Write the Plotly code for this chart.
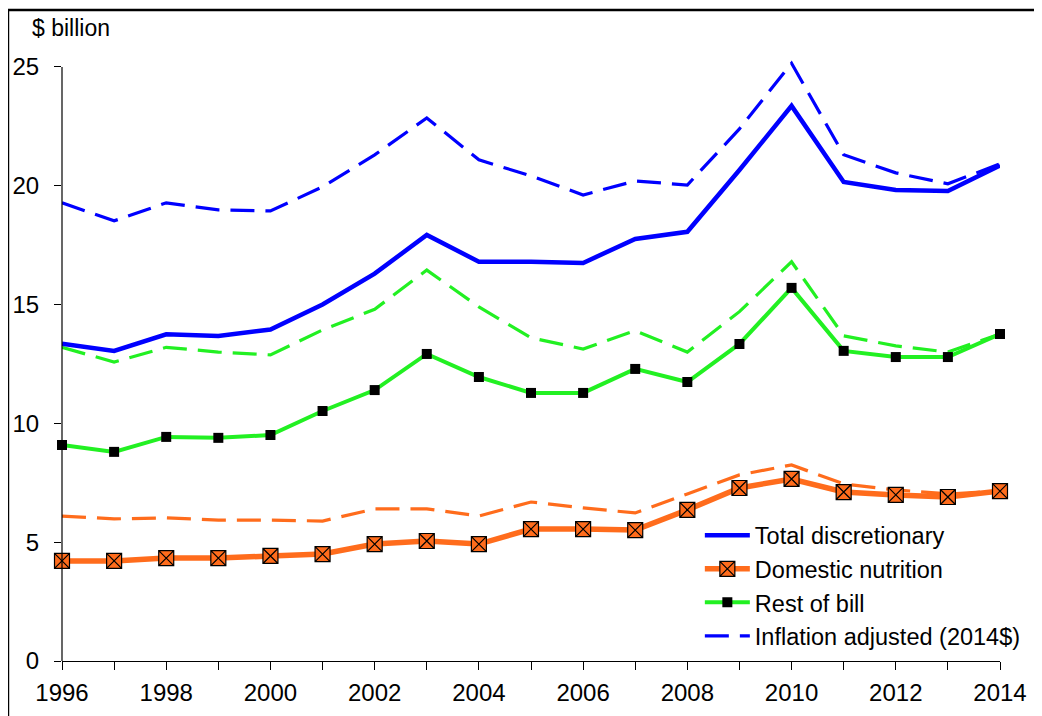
import plotly.graph_objects as go

years = list(range(1996, 2015))
tick_labels = [str(y) if y % 2 == 0 else "" for y in years]
y_ticks = [0, 5, 10, 15, 20, 25]

total_disc = [13.35, 13.05, 13.75, 13.68, 13.95, 15.0, 16.3, 17.93, 16.8, 16.8, 16.75,
              17.76, 18.06, 20.66, 23.36, 20.16, 19.82, 19.78, 20.85]
total_infl = [19.28, 18.52, 19.28, 18.98, 18.94, 19.95, 21.3, 22.85, 21.09, 20.41, 19.61,
              20.2, 20.03, 22.39, 25.15, 21.3, 20.54, 20.08, 20.92]
rest_bill = [9.09, 8.8, 9.43, 9.39, 9.51, 10.52, 11.4, 12.92, 11.95, 11.28, 11.28,
             12.29, 11.74, 13.34, 15.7, 13.05, 12.79, 12.79, 13.76]
rest_infl = [13.2, 12.58, 13.2, 13.0, 12.88, 13.93, 14.8, 16.45, 14.9, 13.6, 13.13,
             13.9, 13.0, 14.7, 16.8, 13.68, 13.26, 13.0, 13.76]
dom_nut = [4.21, 4.21, 4.33, 4.33, 4.42, 4.5, 4.92, 5.05, 4.92, 5.55, 5.55,
           5.51, 6.36, 7.28, 7.66, 7.11, 6.99, 6.9, 7.15]
dom_infl = [6.1, 5.98, 6.02, 5.93, 5.93, 5.89, 6.4, 6.4, 6.1, 6.69, 6.44,
            6.23, 7.03, 7.83, 8.25, 7.45, 7.2, 7.03, 7.15]

BLUE = "#0000FF"
ORANGE = "#FF6C1C"
GREEN = "#22F022"
DASH = "24px,11px"

fig = go.Figure()

fig.add_trace(go.Scatter(x=years, y=rest_infl, mode="lines", showlegend=False,
                         line=dict(color=GREEN, width=3.2, dash=DASH)))
fig.add_trace(go.Scatter(x=years, y=dom_infl, mode="lines", showlegend=False,
                         line=dict(color=ORANGE, width=3.2, dash=DASH)))

fig.add_trace(go.Scatter(x=years, y=total_disc, mode="lines", name="Total discretionary",
                         line=dict(color=BLUE, width=4.5), legendrank=1))
fig.add_trace(go.Scatter(x=years, y=dom_nut, mode="lines+markers", name="Domestic nutrition",
                         line=dict(color=ORANGE, width=5.5),
                         marker=dict(symbol="square-x", size=15, color=ORANGE,
                                     line=dict(color="black", width=1.2)),
                         cliponaxis=False, legendrank=2))
fig.add_trace(go.Scatter(x=years, y=rest_bill, mode="lines+markers", name="Rest of bill",
                         line=dict(color=GREEN, width=4),
                         marker=dict(symbol="square", size=10, color="black"),
                         cliponaxis=False, legendrank=3))
fig.add_trace(go.Scatter(x=years, y=total_infl, mode="lines", name="Inflation adjusted (2014$)",
                         line=dict(color=BLUE, width=3.2, dash=DASH), legendrank=4))

font = "Liberation Sans, Arial, sans-serif"

fig.update_layout(
    width=1042, height=716,
    margin=dict(l=54, r=50, t=47, b=63),
    paper_bgcolor="white", plot_bgcolor="white",
    font=dict(family=font, size=24, color="black"),
    xaxis=dict(range=[1996, 2014], tickvals=years, ticktext=tick_labels,
               ticks="outside", ticklen=8, tickcolor="black", tickwidth=1.2,
               showline=True, linecolor="black", linewidth=1.2, automargin=False,
               showgrid=False, zeroline=False, ticklabelstandoff=2,
               tickfont=dict(family=font, size=24, color="black")),
    yaxis=dict(range=[0, 25.5], tickvals=y_ticks, ticks="outside", ticklen=7,
               tickcolor="black", tickwidth=1.2, showline=False, automargin=False,
               showgrid=False, zeroline=False, ticklabelstandoff=10,
               tickfont=dict(family=font, size=24, color="black")),
    legend=dict(x=0.68, y=0.2434, xanchor="left", yanchor="top",
                bgcolor="rgba(0,0,0,0)", itemwidth=45,
                font=dict(family=font, size=23.5, color="black"),
                tracegroupgap=0),
    showlegend=True,
)

fig.add_shape(type="line", xref="paper", yref="y", x0=0, x1=0, y0=0, y1=25,
              line=dict(color="black", width=1.2))
fig.add_shape(type="rect", xref="paper", yref="paper",
              x0=-0.0576, x1=1.1, y0=-0.15, y1=1.0743,
              line=dict(color="black", width=2.5), layer="above")

fig.add_annotation(text="$ billion", xref="paper", yref="paper",
                   x=-0.034, y=1.045, xanchor="left", yanchor="middle",
                   showarrow=False, font=dict(family=font, size=23, color="black"))

fig.write_html("out.html")
